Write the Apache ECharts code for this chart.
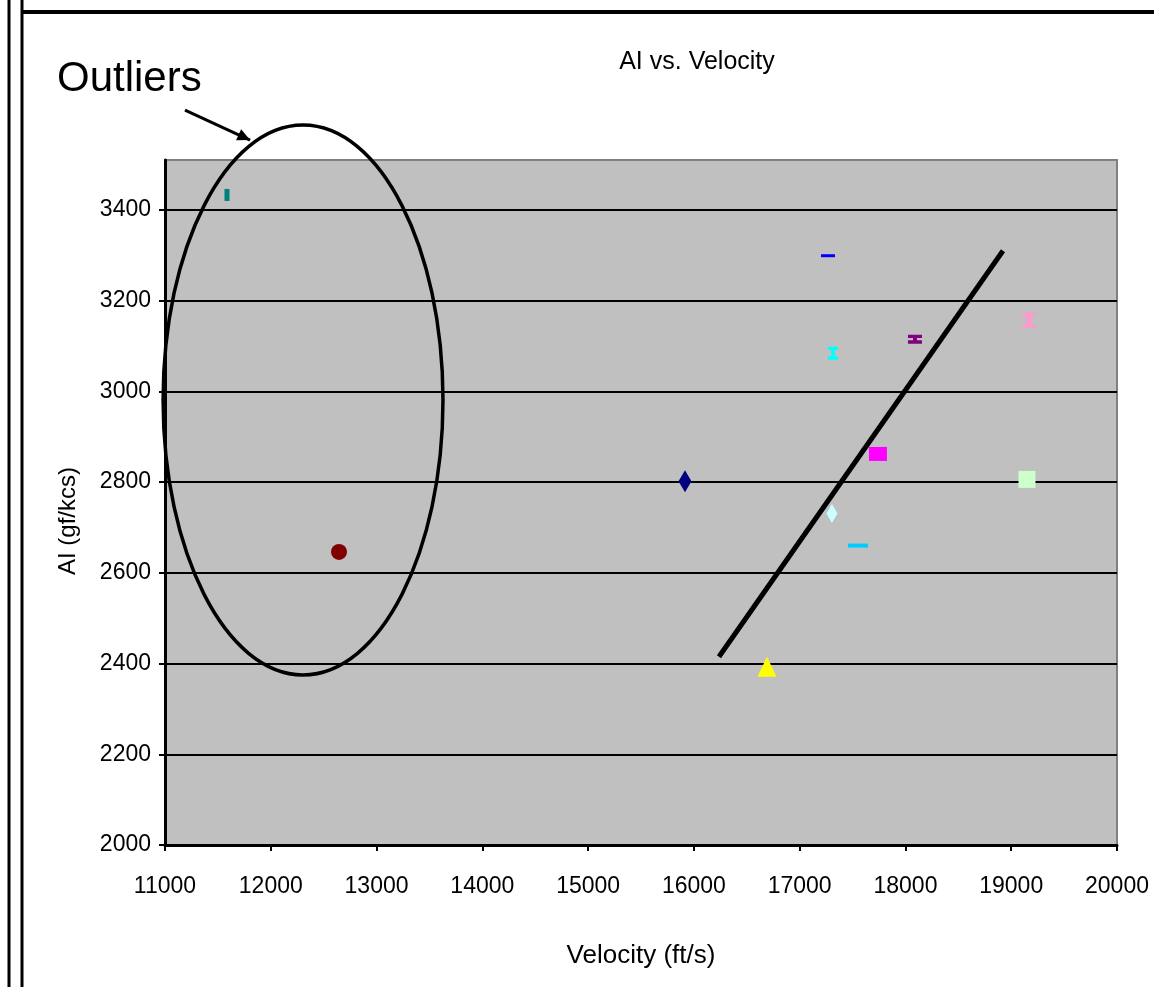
<!DOCTYPE html>
<html><head><meta charset="utf-8">
<script src="https://cdn.jsdelivr.net/npm/echarts@6/dist/echarts.min.js"></script>
<style>html,body{margin:0;padding:0;background:#fff}#c{width:1154px;height:987px}</style>
</head><body><div id="c"></div>
<script>
// ---- data ----
const velocity = [11586, 12645, 15916, 17268, 17315, 18090, 19168, 17740, 19149, 17305, 17551, 16691];
const aiValues = [3433, 2646, 2802, 3299, 3084, 3115, 3157, 2862, 2806, 2731, 2660, 2393];
const trendVelocity = [16237, 18922];
const trendAi = [2415, 3310];
const yTicks = [2000, 2200, 2400, 2600, 2800, 3000, 3200, 3400];
const xTicks = [11000, 12000, 13000, 14000, 15000, 16000, 17000, 18000, 19000, 20000];
// annotation anchors (data units)
const outlierCenter = [12305, 2981];
const outlierRadius = [1323, 606];
const arrowFrom = [11189, 3620];
const arrowTo = [11804, 3554];

// ---- styles ----
const ibeamV = 'path://M0,0H8V3H5.5V9H8V12H0V9H2.5V3H0Z';
const ibeamH = 'path://M0,0H14V3H9V5H14V8H0V5H5V3H0Z';
const markerSymbols = ['rect', 'circle', 'diamond', 'rect', ibeamV, ibeamH, ibeamV, 'rect', 'rect', 'diamond', 'rect', 'triangle'];
const markerSizes = [[5, 12], 16, [13, 22], [14, 3], [10, 13], [14, 9], [13, 15], [18, 14], [17, 17], [11, 19], [20, 4], [19, 20]];
const markerColors = ['#008080', '#800000', '#000080', '#0000ff', '#00ffff', '#800080', '#ff99cc', '#ff00ff', '#ccffcc', '#ccffff', '#00ccff', '#ffff00'];

const FONT = '"Liberation Sans", Arial, sans-serif';

const chart = echarts.init(document.getElementById('c'), null, {renderer: 'canvas'});

const series = velocity.map((v, i) => ({
  type: 'scatter',
  name: 'S' + (i + 1),
  data: [[v, aiValues[i]]],
  symbol: markerSymbols[i],
  symbolSize: markerSizes[i],
  itemStyle: {color: markerColors[i], opacity: 1},
  z: 5,
  silent: true
}));

series.unshift({
  type: 'line',
  data: trendVelocity.map((v, i) => [v, trendAi[i]]),
  showSymbol: false,
  symbol: 'none',
  lineStyle: {color: '#000', width: 5},
  z: 4,
  silent: true,
  markLine: {
    silent: true,
    symbol: 'none',
    label: {show: false},
    lineStyle: {color: '#000', width: 2, type: 'solid'},
    data: yTicks.slice(1).map(v => ({yAxis: v})),
    z: 3
  }
});

chart.setOption({
  animation: false,
  backgroundColor: '#ffffff',
  title: {
    text: 'AI vs. Velocity',
    left: 692, top: 45, textAlign: 'center',
    textStyle: {fontFamily: FONT, fontSize: 25, fontWeight: 'normal', color: '#000'}
  },
  grid: {
    left: 165, top: 160, right: 37, bottom: 142,
    outerBoundsMode: 'none', containLabel: false,
    show: true, backgroundColor: '#c0c0c0', borderColor: '#808080', borderWidth: 2
  },
  xAxis: {
    type: 'value', min: 11000, max: 20000, interval: 1000,
    name: 'Velocity (ft/s)', nameLocation: 'middle', nameGap: 98,
    nameTextStyle: {fontFamily: FONT, fontSize: 26, color: '#000'},
    axisLine: {show: true, onZero: false, lineStyle: {color: '#000', width: 3}},
    axisTick: {show: true, inside: false, length: 6, lineStyle: {color: '#000', width: 2}},
    axisLabel: {fontFamily: FONT, fontSize: 23, color: '#000', margin: 30,
      formatter: v => xTicks.includes(v) ? String(v) : ''},
    splitLine: {show: false}
  },
  yAxis: {
    type: 'value', min: 2000, max: 3510, interval: 200,
    axisLine: {show: true, onZero: false, lineStyle: {color: '#000', width: 3}},
    axisTick: {show: true, inside: false, length: 6, customValues: yTicks, lineStyle: {color: '#000', width: 2}},
    axisLabel: {fontFamily: FONT, fontSize: 23, color: '#000', margin: 14, customValues: yTicks,
      formatter: v => yTicks.includes(v) ? String(v) : ''},
    splitLine: {show: false}
  },
  series: series
});

function px(p) { return chart.convertToPixel({gridIndex: 0}, p); }
const c = px(outlierCenter);
const e1 = px([outlierCenter[0] + outlierRadius[0], outlierCenter[1] + outlierRadius[1]]);
const rx = Math.abs(e1[0] - c[0]), ry = Math.abs(c[1] - e1[1]);
const a0 = px(arrowFrom), a1 = px(arrowTo);
const ang = Math.atan2(a1[1] - a0[1], a1[0] - a0[0]);
const head = 14, spread = 0.45;
const headPts = [
  a1,
  [a1[0] - head * Math.cos(ang - spread), a1[1] - head * Math.sin(ang - spread)],
  [a1[0] - head * Math.cos(ang + spread), a1[1] - head * Math.sin(ang + spread)]
];

chart.setOption({
  graphic: [
    {type: 'line', shape: {x1: 9, y1: 0, x2: 9, y2: 987}, style: {stroke: '#000', lineWidth: 3}, z: 10},
    {type: 'line', shape: {x1: 22, y1: 0, x2: 22, y2: 987}, style: {stroke: '#000', lineWidth: 3}, z: 10},
    {type: 'line', shape: {x1: 22, y1: 12, x2: 1154, y2: 12}, style: {stroke: '#000', lineWidth: 4}, z: 10},
    {type: 'ellipse', shape: {cx: c[0], cy: c[1], rx: rx, ry: ry}, style: {fill: null, stroke: '#000', lineWidth: 3.5}, z: 20},
    {type: 'line', shape: {x1: a0[0], y1: a0[1], x2: a1[0], y2: a1[1]}, style: {stroke: '#000', lineWidth: 3}, z: 20},
    {type: 'polygon', shape: {points: headPts}, style: {fill: '#000'}, z: 20},
    {type: 'text', left: 57, top: 58, style: {text: 'Outliers', font: '42px "Liberation Sans", Arial, sans-serif', fill: '#000'}, z: 20},
    {type: 'text', x: 56, y: 521, rotation: Math.PI / 2,
      style: {text: 'AI (gf/kcs)', font: '24px ' + FONT, fill: '#000', align: 'center', verticalAlign: 'top'}, z: 20}
  ]
});
</script>
</body></html>
